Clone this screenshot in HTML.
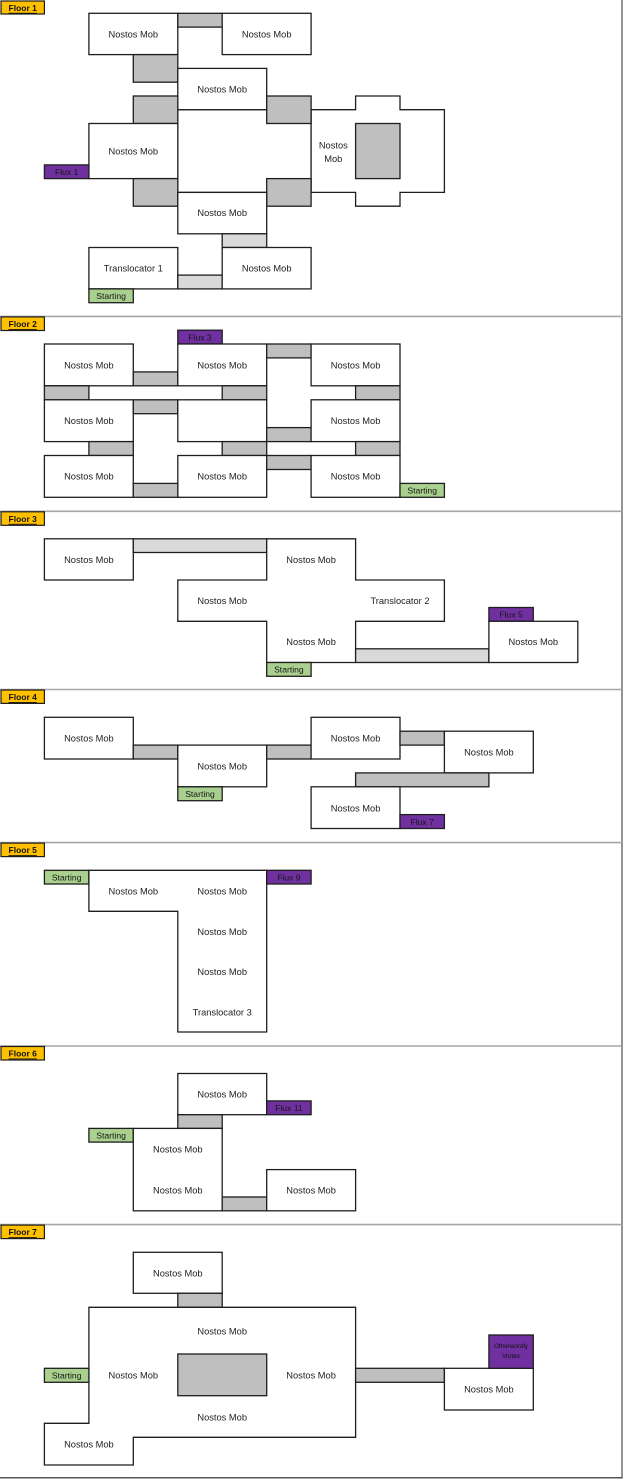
<!DOCTYPE html>
<html>
<head>
<meta charset="utf-8">
<style>
html,body{margin:0;padding:0;background:#fff;}
svg{display:block;}
.w{fill:#fff;stroke:#1e1e1e;stroke-width:1.3;}
.g{fill:#bfbfbf;stroke:#1e1e1e;stroke-width:1.3;}
.l{fill:#d9d9d9;stroke:#1e1e1e;stroke-width:1.3;}
.s{fill:#a9d08e;stroke:#1e1e1e;stroke-width:1.3;}
.p{fill:#7030a0;stroke:#1e1e1e;stroke-width:1.3;}
.y{fill:#ffc000;stroke:#1e1e1e;stroke-width:1.2;}
text{font-family:"Liberation Sans",sans-serif;font-size:9.3px;fill:#222;text-anchor:middle;dominant-baseline:central;}
text.f{font-weight:bold;font-size:8.5px;text-decoration:underline;fill:#111;}
text.sm{font-size:8.6px;fill:#161616;}
text.v{font-size:6.3px;fill:#111;}
.sep{stroke:#a6a6a6;stroke-width:1.6;}
</style>
</head>
<body>
<svg width="640" height="1479" viewBox="0 0 640 1479" xmlns="http://www.w3.org/2000/svg">
<!-- frame -->
<line x1="622" y1="0" x2="622" y2="1478" stroke="#666" stroke-width="1.4"/>
<line x1="0" y1="1477.8" x2="622.7" y2="1477.8" stroke="#555" stroke-width="1.5"/>
<line class="sep" x1="0" y1="316.4" x2="622" y2="316.4"/>
<line class="sep" x1="0" y1="511.3" x2="622" y2="511.3"/>
<line class="sep" x1="0" y1="689.5" x2="622" y2="689.5"/>
<line class="sep" x1="0" y1="842.6" x2="622" y2="842.6"/>
<line class="sep" x1="0" y1="1046" x2="622" y2="1046"/>
<line class="sep" x1="0" y1="1224.6" x2="622" y2="1224.6"/>

<!-- ============ FLOOR 1 ============ -->
<rect class="y" x="1" y="1" width="43.4" height="13"/>
<text class="f" x="22.7" y="7.8">Floor 1</text>

<rect class="w" x="177.8" y="109.7" width="133.3" height="82.7"/>
<path class="w" d="M311.1 109.7 H355.6 V96 H400 V109.7 H444.4 V192.4 H400 V206.2 H355.6 V192.4 H311.1 Z"/>
<rect class="g" x="355.6" y="123.5" width="44.4" height="55.1"/>
<text x="333.3" y="145.5">Nostos</text>
<text x="333.3" y="159">Mob</text>

<rect class="w" x="88.9" y="13.3" width="88.9" height="41.3"/>
<text x="133.3" y="34.3">Nostos Mob</text>
<rect class="g" x="177.8" y="13.3" width="44.4" height="13.8"/>
<rect class="w" x="222.2" y="13.3" width="88.9" height="41.3"/>
<text x="266.7" y="34.3">Nostos Mob</text>
<rect class="g" x="133.3" y="54.6" width="44.5" height="27.6"/>
<rect class="w" x="177.8" y="68.4" width="88.9" height="41.3"/>
<text x="222.2" y="89.5">Nostos Mob</text>
<rect class="g" x="133.3" y="96" width="44.5" height="27.5"/>
<rect class="g" x="266.7" y="96" width="44.4" height="27.5"/>
<rect class="w" x="88.9" y="123.5" width="88.9" height="55.1"/>
<text x="133.3" y="151.5">Nostos Mob</text>
<rect class="p" x="44.4" y="164.9" width="44.5" height="13.7"/>
<text class="sm" x="66.7" y="171.9">Flux 1</text>
<rect class="g" x="133.3" y="178.6" width="44.5" height="27.6"/>
<rect class="g" x="266.7" y="178.6" width="44.4" height="27.6"/>
<rect class="w" x="177.8" y="192.4" width="88.9" height="41.4"/>
<text x="222.2" y="213">Nostos Mob</text>
<rect class="l" x="222.2" y="233.8" width="44.5" height="13.7"/>
<rect class="w" x="88.9" y="247.5" width="88.9" height="41.4"/>
<text x="133.3" y="268.3">Translocator 1</text>
<rect class="l" x="177.8" y="275.1" width="44.4" height="13.8"/>
<rect class="w" x="222.2" y="247.5" width="88.9" height="41.4"/>
<text x="266.7" y="268.3">Nostos Mob</text>
<rect class="s" x="88.9" y="288.9" width="44.4" height="13.8"/>
<text class="sm" x="111.1" y="296">Starting</text>

<!-- ============ FLOOR 2 ============ -->
<rect class="y" x="1" y="316.9" width="43.4" height="13.6"/>
<text class="f" x="22.7" y="324">Floor 2</text>
<rect class="p" x="177.8" y="330.2" width="44.4" height="13.8"/>
<text class="sm" x="200" y="337.3">Flux 3</text>

<rect class="w" x="44.4" y="344" width="88.9" height="41.8"/>
<text x="88.9" y="365.3">Nostos Mob</text>
<rect class="g" x="133.3" y="371.9" width="44.5" height="13.9"/>
<rect class="w" x="177.8" y="344" width="88.9" height="41.8"/>
<text x="222.2" y="365.3">Nostos Mob</text>
<rect class="g" x="266.7" y="344" width="44.4" height="13.9"/>
<rect class="w" x="311.1" y="344" width="88.9" height="41.8"/>
<text x="355.6" y="365.3">Nostos Mob</text>

<rect class="g" x="44.4" y="385.8" width="44.5" height="14"/>
<rect class="g" x="222.2" y="385.8" width="44.5" height="14"/>
<rect class="g" x="355.6" y="385.8" width="44.4" height="14"/>

<rect class="w" x="44.4" y="399.8" width="88.9" height="41.8"/>
<text x="88.9" y="421">Nostos Mob</text>
<rect class="g" x="133.3" y="399.8" width="44.5" height="13.9"/>
<rect class="w" x="177.8" y="399.8" width="88.9" height="41.8"/>
<rect class="g" x="266.7" y="427.6" width="44.4" height="14"/>
<rect class="w" x="311.1" y="399.8" width="88.9" height="41.8"/>
<text x="355.6" y="421">Nostos Mob</text>

<rect class="g" x="88.9" y="441.6" width="44.4" height="13.9"/>
<rect class="g" x="222.2" y="441.6" width="44.5" height="13.9"/>
<rect class="g" x="355.6" y="441.6" width="44.4" height="13.9"/>

<rect class="w" x="44.4" y="455.5" width="88.9" height="41.8"/>
<text x="88.9" y="476.7">Nostos Mob</text>
<rect class="w" x="177.8" y="455.5" width="88.9" height="41.8"/>
<text x="222.2" y="476.7">Nostos Mob</text>
<rect class="g" x="266.7" y="455.5" width="44.4" height="14"/>
<rect class="w" x="311.1" y="455.5" width="88.9" height="41.8"/>
<text x="355.6" y="476.7">Nostos Mob</text>
<rect class="g" x="133.3" y="483.4" width="44.5" height="13.9"/>
<rect class="s" x="400" y="483.4" width="44.4" height="13.9"/>
<text class="sm" x="422.2" y="490.5">Starting</text>

<!-- ============ FLOOR 3 ============ -->
<rect class="y" x="1" y="511.8" width="43.4" height="13.5"/>
<text class="f" x="22.7" y="518.8">Floor 3</text>
<rect class="w" x="44.4" y="538.8" width="88.9" height="41.2"/>
<text x="88.9" y="559.8">Nostos Mob</text>
<rect class="l" x="133.3" y="538.8" width="133.4" height="13.7"/>
<path class="w" d="M266.7 538.8 H355.6 V580 H444.4 V621.3 H355.6 V662.5 H266.7 V621.3 H177.8 V580 H266.7 Z"/>
<text x="311.1" y="559.8">Nostos Mob</text>
<text x="222.2" y="600.9">Nostos Mob</text>
<text x="400" y="600.9">Translocator 2</text>
<text x="311.1" y="642">Nostos Mob</text>
<rect class="s" x="266.7" y="662.5" width="44.4" height="13.8"/>
<text class="sm" x="288.9" y="669.6">Starting</text>
<rect class="l" x="355.6" y="648.8" width="133.3" height="13.7"/>
<rect class="p" x="488.9" y="607.5" width="44.4" height="13.8"/>
<text class="sm" x="511.1" y="614.6">Flux 5</text>
<rect class="w" x="488.9" y="621.3" width="88.9" height="41.2"/>
<text x="533.3" y="642">Nostos Mob</text>

<!-- ============ FLOOR 4 ============ -->
<rect class="y" x="1" y="690" width="43.4" height="13.4"/>
<text class="f" x="22.7" y="697">Floor 4</text>
<rect class="w" x="44.4" y="717.3" width="88.9" height="41.7"/>
<text x="88.9" y="738.6">Nostos Mob</text>
<rect class="g" x="133.3" y="745.1" width="44.5" height="13.9"/>
<rect class="w" x="177.8" y="745.1" width="88.9" height="41.7"/>
<text x="222.2" y="766.4">Nostos Mob</text>
<rect class="s" x="177.8" y="786.8" width="44.4" height="13.9"/>
<text class="sm" x="200" y="794">Starting</text>
<rect class="g" x="266.7" y="745.1" width="44.4" height="13.9"/>
<rect class="w" x="311.1" y="717.3" width="88.9" height="41.7"/>
<text x="355.6" y="738.6">Nostos Mob</text>
<rect class="g" x="400" y="731.2" width="44.4" height="13.9"/>
<rect class="w" x="444.4" y="731.2" width="88.9" height="41.7"/>
<text x="488.9" y="752.5">Nostos Mob</text>
<rect class="g" x="355.6" y="772.9" width="133.3" height="13.9"/>
<rect class="w" x="311.1" y="786.8" width="88.9" height="41.7"/>
<text x="355.6" y="808.3">Nostos Mob</text>
<rect class="p" x="400" y="814.6" width="44.4" height="13.9"/>
<text class="sm" x="422.2" y="821.8">Flux 7</text>

<!-- ============ FLOOR 5 ============ -->
<rect class="y" x="1" y="843.1" width="43.4" height="13.5"/>
<text class="f" x="22.7" y="850.2">Floor 5</text>
<rect class="s" x="44.4" y="870.3" width="44.5" height="13.7"/>
<text class="sm" x="66.7" y="877.3">Starting</text>
<path class="w" d="M88.9 870.3 H266.7 V1032 H177.8 V911.3 H88.9 Z"/>
<rect class="p" x="266.7" y="870.3" width="44.4" height="13.7"/>
<text class="sm" x="288.9" y="877.3">Flux 9</text>
<text x="133.3" y="891.3">Nostos Mob</text>
<text x="222.2" y="891.3">Nostos Mob</text>
<text x="222.2" y="932">Nostos Mob</text>
<text x="222.2" y="972">Nostos Mob</text>
<text x="222.2" y="1012.3">Translocator 3</text>

<!-- ============ FLOOR 6 ============ -->
<rect class="y" x="1" y="1046.5" width="43.4" height="13.5"/>
<text class="f" x="22.7" y="1053.5">Floor 6</text>
<rect class="w" x="177.8" y="1073.5" width="88.9" height="41.2"/>
<text x="222.2" y="1094.3">Nostos Mob</text>
<rect class="p" x="266.7" y="1100.9" width="44.4" height="13.8"/>
<text class="sm" x="288.9" y="1108">Flux 11</text>
<rect class="g" x="177.8" y="1114.7" width="44.4" height="13.7"/>
<rect class="s" x="88.9" y="1128.4" width="44.4" height="13.7"/>
<text class="sm" x="111.1" y="1135.4">Starting</text>
<rect class="w" x="133.3" y="1128.4" width="88.9" height="82.4"/>
<text x="177.8" y="1149.3">Nostos Mob</text>
<text x="177.8" y="1190.7">Nostos Mob</text>
<rect class="g" x="222.2" y="1197" width="44.5" height="13.8"/>
<rect class="w" x="266.7" y="1169.6" width="88.9" height="41.2"/>
<text x="311.1" y="1190.7">Nostos Mob</text>

<!-- ============ FLOOR 7 ============ -->
<rect class="y" x="1" y="1225.1" width="43.4" height="13.5"/>
<text class="f" x="22.7" y="1232.2">Floor 7</text>
<rect class="w" x="133.3" y="1252.3" width="88.9" height="41"/>
<text x="177.8" y="1273.5">Nostos Mob</text>
<rect class="g" x="177.8" y="1293.3" width="44.4" height="14"/>
<path class="w" d="M88.9 1307.3 H355.6 V1437.3 H133.3 V1465 H44.4 V1423.3 H88.9 Z"/>
<rect class="g" x="177.8" y="1354" width="88.9" height="41.7"/>
<text x="222.2" y="1331.3">Nostos Mob</text>
<text x="133.3" y="1375.7">Nostos Mob</text>
<text x="311.1" y="1375.7">Nostos Mob</text>
<text x="222.2" y="1417.3">Nostos Mob</text>
<text x="88.9" y="1444.5">Nostos Mob</text>
<rect class="s" x="44.4" y="1368.3" width="44.5" height="14"/>
<text class="sm" x="66.7" y="1375.5">Starting</text>
<rect class="g" x="355.6" y="1368.3" width="88.8" height="14"/>
<rect class="w" x="444.4" y="1368.3" width="88.9" height="41.7"/>
<text x="488.9" y="1389.5">Nostos Mob</text>
<rect class="p" x="488.9" y="1335" width="44.4" height="33.3"/>
<text class="v" x="511.1" y="1346.7">Otherwordly</text>
<text class="v" x="511.1" y="1356.3">Vortex</text>
</svg>
</body>
</html>
